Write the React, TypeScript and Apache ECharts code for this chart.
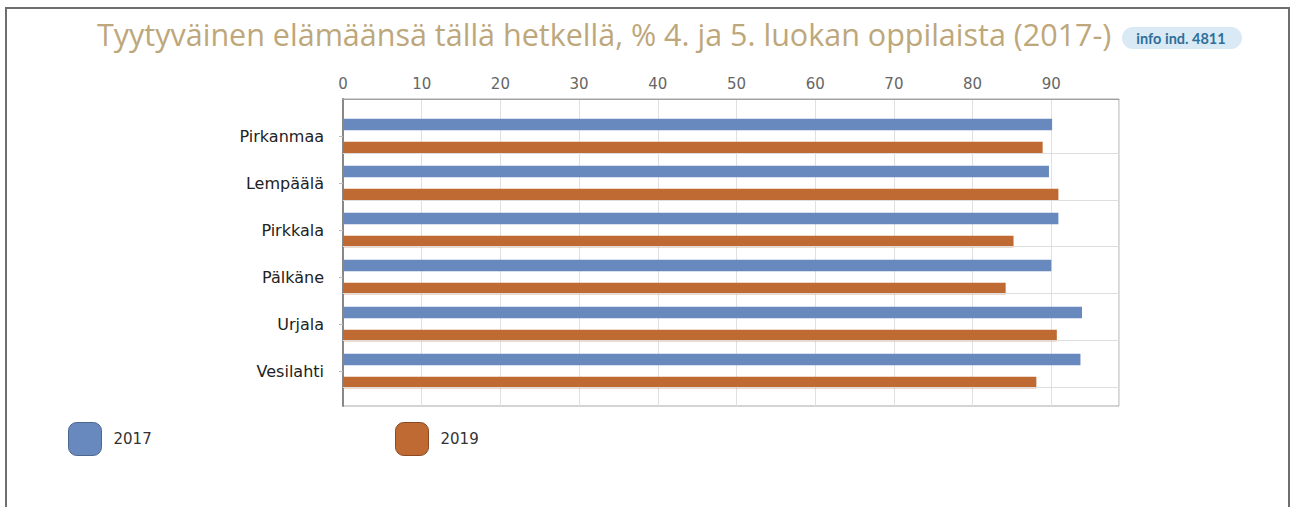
import React, { useEffect, useRef } from "react";
import * as echarts from "echarts";

// ---- data ----
const CATEGORIES = ["Pirkanmaa", "Lempäälä", "Pirkkala", "Pälkäne", "Urjala", "Vesilahti"];
const SERIES_NAMES = ["2017", "2019"];
const VALUES_2017 = [90.1, 89.7, 90.9, 90.0, 93.9, 93.7];
const VALUES_2019 = [88.9, 90.9, 85.2, 84.2, 90.7, 88.1];
const TITLE = "Tyytyväinen elämäänsä tällä hetkellä, % 4. ja 5. luokan oppilaista (2017-)";
const BADGE = "info ind. 4811";

// ---- layout / style ----
const AXIS_MAX = 98.6;
const FRAME_H = 307;
const ROW_LINES = [54.3, 101, 147.7, 194.3, 241.7, 288.3];
const BLUE = "#6889bd";
const ORANGE = "#bf6a33";
const FONT = "DejaVu Sans";

export default function App() {
  const ref = useRef<HTMLDivElement>(null);
  useEffect(() => {
    if (!ref.current) return;
    const chart = echarts.init(ref.current, null, { renderer: "svg" });
    const legendBase = {
      itemWidth: 33, itemHeight: 33, icon: "roundRect", selectedMode: false, padding: 0, top: 422,
      textStyle: { color: "#333", fontSize: 15, fontFamily: FONT, padding: [0, 0, 0, 7] },
    };
    const option: any = {
      animation: false,
      backgroundColor: "#ffffff",
      grid: [
        { left: 343, top: 99, width: 776, height: FRAME_H, show: true, borderColor: "#a8a8a8", borderWidth: 1, backgroundColor: "transparent" },
        { left: 343, top: 112.5, width: 776, height: 282 },
      ],
      xAxis: [
        {
          gridIndex: 0, type: "value", position: "top", min: 0, max: AXIS_MAX, interval: 10,
          axisLine: { show: true, onZero: false, lineStyle: { color: "#a0a0a0" } },
          axisTick: { show: false },
          splitLine: { show: true, lineStyle: { color: "#e0e0e0" } },
          axisLabel: {
            color: "#666", fontFamily: FONT, fontSize: 15, margin: 8, showMaxLabel: false,
            formatter: (v: number) => (v % 10 === 0 ? String(v) : ""),
          },
        },
        { gridIndex: 1, type: "value", min: 0, max: AXIS_MAX, show: false },
      ],
      yAxis: [
        {
          gridIndex: 0, type: "value", min: 0, max: FRAME_H, inverse: true,
          axisLine: { show: true, onZero: false, lineStyle: { color: "#888", width: 2 } },
          axisTick: { show: false }, axisLabel: { show: false }, splitLine: { show: false },
        },
        {
          gridIndex: 1, type: "category", data: CATEGORIES, inverse: true,
          axisLine: { show: false },
          axisTick: { show: true, alignWithLabel: true, length: 4, lineStyle: { color: "#bbb" } },
          axisLabel: { color: "#222", fontFamily: FONT, fontSize: 16, margin: 19 },
          splitLine: { show: false },
        },
      ],
      legend: [
        {
          ...legendBase, left: 68,
          data: [{ name: SERIES_NAMES[0], itemStyle: { borderColor: "#4d6690", borderWidth: 1 } }],
        },
        {
          ...legendBase, left: 395,
          data: [{ name: SERIES_NAMES[1], itemStyle: { borderColor: "#8a4a22", borderWidth: 1 } }],
        },
      ],
      series: [
        {
          name: SERIES_NAMES[0], type: "bar", xAxisIndex: 1, yAxisIndex: 1, data: VALUES_2017,
          barWidth: 11.5, barGap: "100%", itemStyle: { color: BLUE },
        },
        {
          name: SERIES_NAMES[1], type: "bar", xAxisIndex: 1, yAxisIndex: 1, data: VALUES_2019,
          barWidth: 11.5, barGap: "100%", itemStyle: { color: ORANGE },
        },
        {
          type: "line", xAxisIndex: 0, yAxisIndex: 0, data: [], silent: true,
          markLine: {
            silent: true, symbol: "none", label: { show: false },
            lineStyle: { color: "#dedede", type: "solid", width: 1 },
            data: ROW_LINES.map((y) => ({ yAxis: y })),
          },
        },
      ],
      graphic: [
        {
          type: "rect", z: -10, shape: { x: 6, y: 8, width: 1283, height: 520 },
          style: { fill: "none", stroke: "#6e6e6e", lineWidth: 2 },
        },
        {
          type: "text", x: 97, y: 34,
          style: { text: TITLE, fontSize: 30.5, fontFamily: "Open Sans", fill: "#bda77b", verticalAlign: "middle" },
        },
        {
          type: "rect", shape: { x: 1122, y: 27, width: 120, height: 22, r: 11 },
          style: { fill: "#d9eaf5" },
        },
        {
          type: "text", x: 1181, y: 38,
          style: { text: BADGE, fontSize: 14.5, fontWeight: "bold", fontFamily: "Lato", fill: "#2f6f9c", align: "center", verticalAlign: "middle" },
        },
      ],
    };
    chart.setOption(option);
    return () => chart.dispose();
  }, []);
  return <div ref={ref} style={{ position: "fixed", left: 0, top: 0, width: 1292, height: 507 }} />;
}
